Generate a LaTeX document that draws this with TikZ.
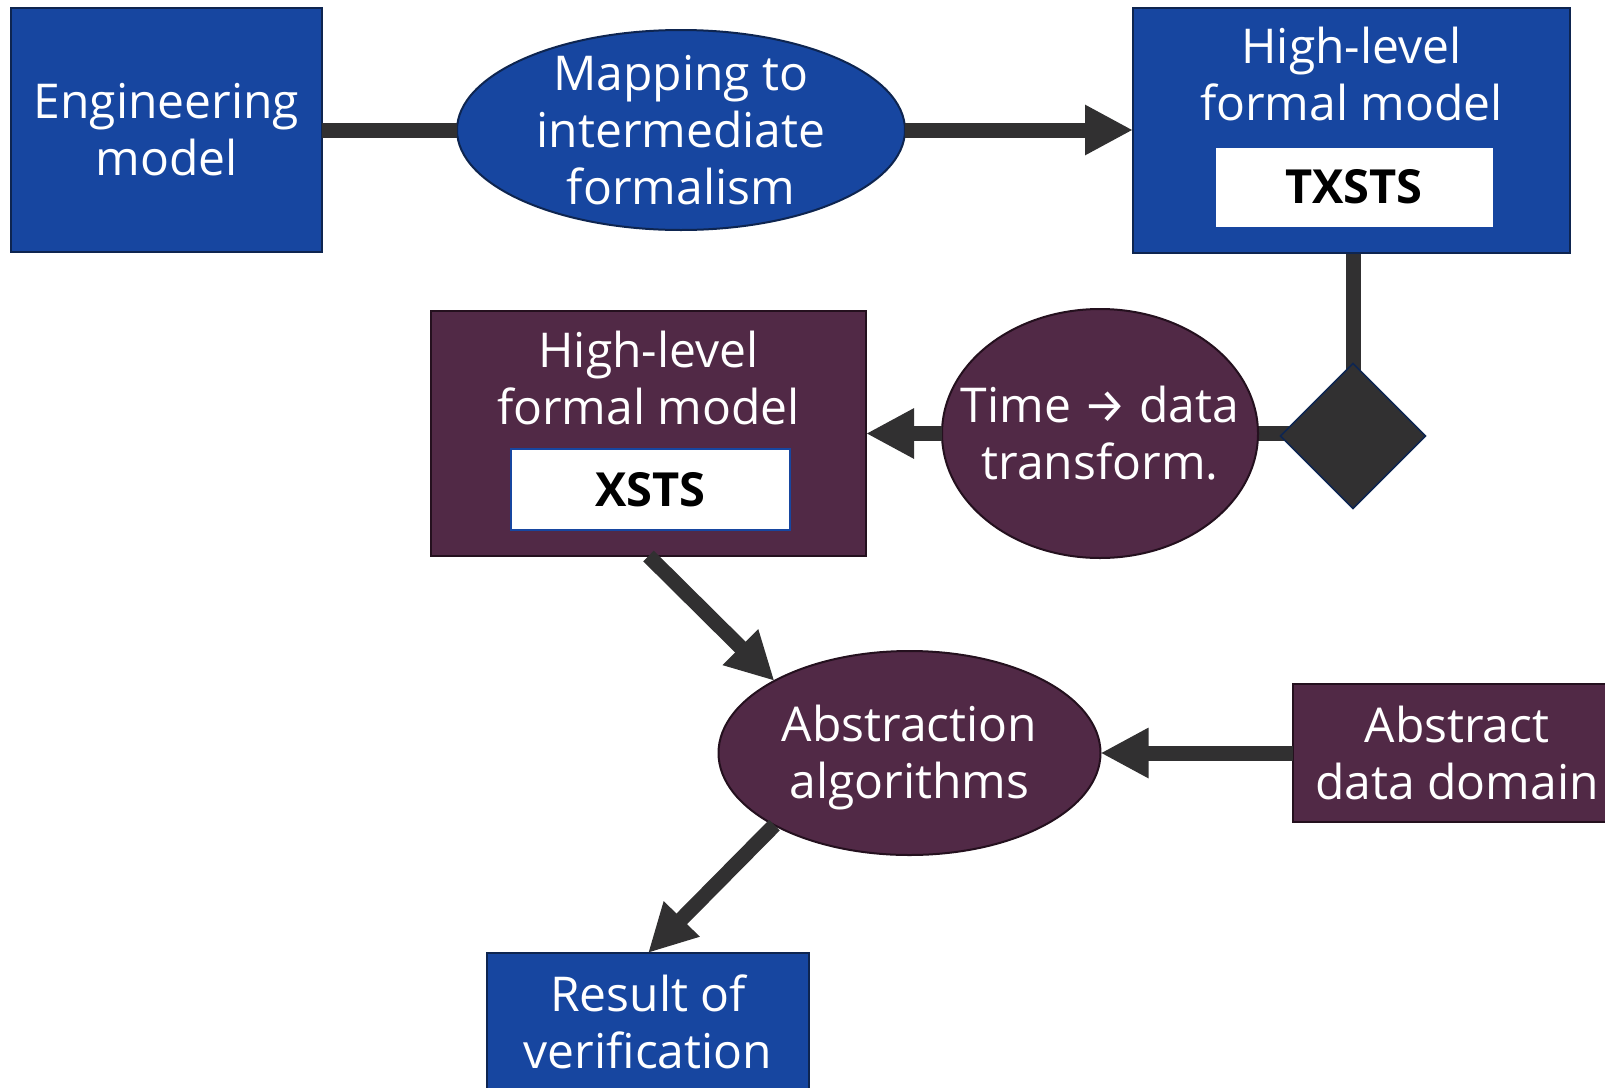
\documentclass[tikz,border=0pt]{standalone}
\usepackage{fontspec}
\setmainfont{Open Sans}
\newfontfamily\arrfont{Fira Sans}
\usetikzlibrary{shapes.geometric,arrows.meta}
\definecolor{bblue}{HTML}{1746A0}
\definecolor{bpurp}{HTML}{512946}
\definecolor{lgray}{HTML}{313031}
\definecolor{navy}{HTML}{0E2550}
\definecolor{dpurp}{HTML}{24101E}
\pgfdeclarelayer{bg}
\pgfsetlayers{bg,main}
\begin{document}
\begin{tikzpicture}[x=1pt,y=-1pt,
  bluebox/.style={draw=navy, fill=bblue, line width=2pt, inner sep=0pt, outer sep=0pt},
  purpbox/.style={draw=dpurp, fill=bpurp, line width=2pt, inner sep=0pt, outer sep=0pt},
  blueell/.style={ellipse, draw=navy, fill=bblue, line width=2pt, inner sep=0pt, outer sep=0pt},
  purpell/.style={ellipse, draw=dpurp, fill=bpurp, line width=2pt, inner sep=0pt, outer sep=0pt},
  whitebox/.style={draw=white, fill=white, line width=1pt, inner sep=0pt, outer sep=0pt},
  txt/.style={text=white, align=center, inner sep=0pt, font=\fontsize{48}{57}\selectfont},
  btxt/.style={text=black, inner sep=0pt, font=\fontsize{47}{50}\selectfont\bfseries},
  conn/.style={draw=lgray, line width=15pt},
  arr/.style={draw=lgray, line width=15pt, -{Triangle[length=48pt,width=47pt]}}
]
\useasboundingbox (0,0) rectangle (1605,1087);
\clip (0,0) rectangle (1605,1087);

% shapes
\node[bluebox, minimum width=311pt, minimum height=244pt] (eng) at (166.5,130) {};
\node[blueell, minimum width=448pt, minimum height=200pt] (map) at (681,130) {};
\node[bluebox, minimum width=437pt, minimum height=245pt] (txsts) at (1351.5,130.5) {};
\node[whitebox, minimum width=276pt, minimum height=78pt] (txw) at (1354,187) {};
\node[diamond, aspect=1, draw=navy, fill=lgray, line width=1.5pt, inner sep=0pt, outer sep=0pt, minimum width=145pt, minimum height=145pt] (dia) at (1353,436) {};
\node[purpell, minimum width=316pt, minimum height=249pt] (time) at (1100,433.5) {};
\node[purpbox, minimum width=435pt, minimum height=245pt] (xsts) at (648.5,433.5) {};
\node[whitebox, draw=bblue, line width=2pt, minimum width=279pt, minimum height=81pt] (xw) at (650.5,489.5) {};
\node[purpell, minimum width=382pt, minimum height=204pt] (abs) at (909.5,753) {};
\node[purpbox, minimum width=328pt, minimum height=138pt] (add) at (1457,753) {};
\node[bluebox, minimum width=322pt, minimum height=147pt] (res) at (648,1026.5) {};

% texts
\node[txt] (engt) at (eng) {Engineering\\model};
\node[txt] (mapt) at (map) {Mapping to\\intermediate\\formalism};
\node[txt] (txt1) at (1351.5,74) {High-level\\formal model};
\node[btxt] (txt2) at (txw) {TXSTS};
\node[txt] (timet) at (time) {Time {\arrfont\fontsize{48}{57}\selectfont →} data\\transform.};
\node[txt] (xt1) at (648.5,378) {High-level\\formal model};
\node[btxt] (xt2) at (xw) {XSTS};
\node[txt] (abst) at (909.5,758) {Abstraction\\algorithms};
\node[txt] (addt) at (1457,753) {Abstract\\data domain};
\node[txt] (rest) at (648,1022) {Result of\\verification};

% connectors
\begin{pgfonlayer}{bg}
\draw[conn] (dia.center |- txsts.south) -- (dia.center);
\draw[conn] (time.east) -- (dia.center |- time.east);
\end{pgfonlayer}
\draw[conn] (eng.east) -- (map.west);
\draw[arr] (map.east) -- (txsts.west |- map.east);
\draw[arr] (time.west) -- (xsts.east |- time.west);
\draw[arr] (xsts.south) -- (abs.north west);
\draw[arr] (add.west) -- (abs.east);
\draw[arr] (abs.south west) -- (res.north);
\end{tikzpicture}
\end{document}
